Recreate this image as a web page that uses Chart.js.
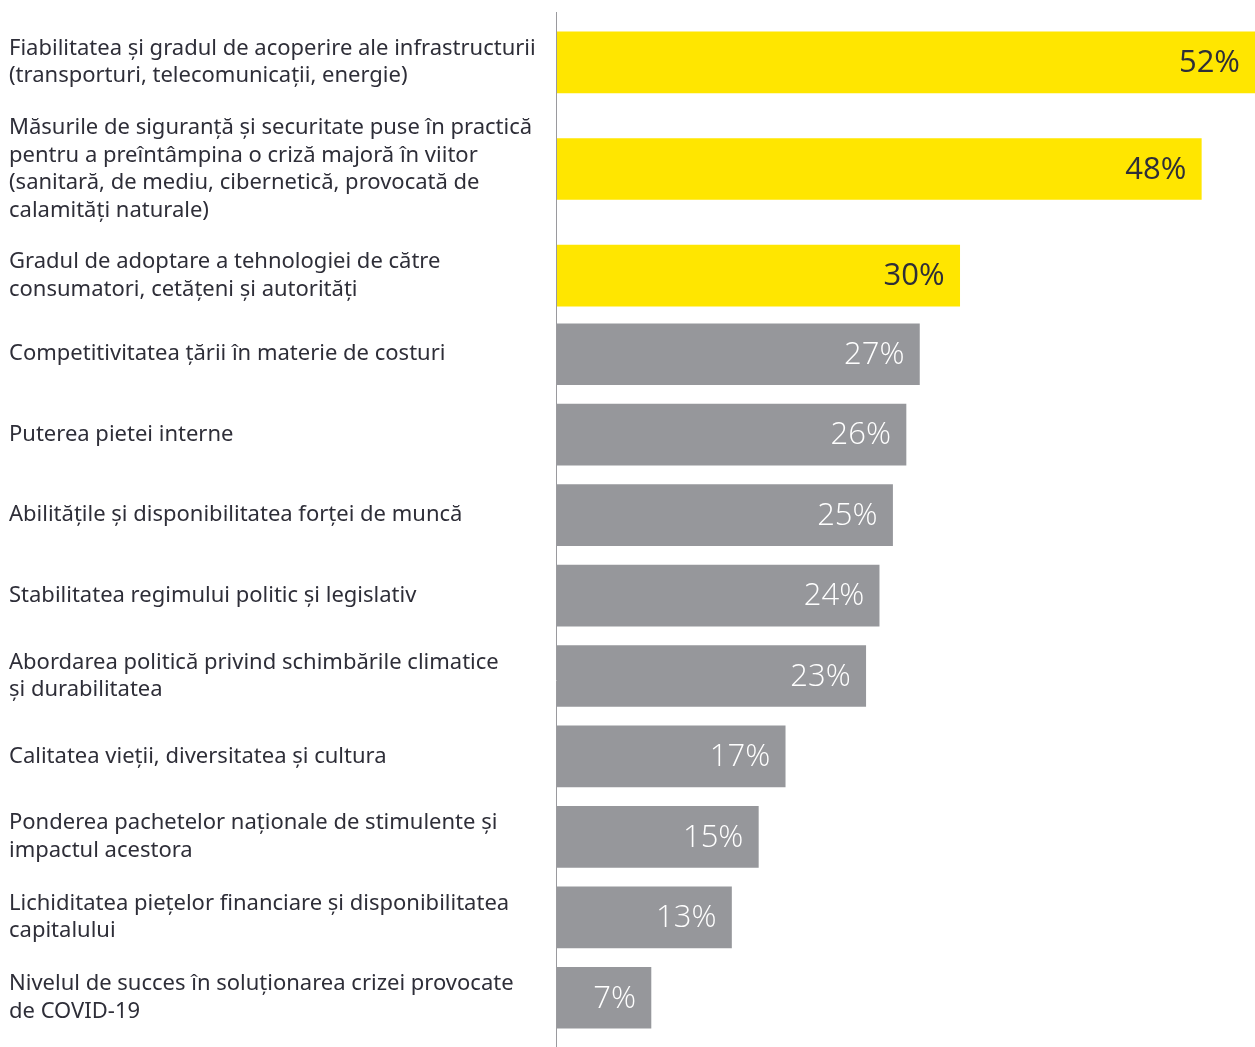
<!DOCTYPE html>
<html>
<head>
<meta charset="utf-8">
<script src="https://cdn.jsdelivr.net/npm/chart.js@4.4.1/dist/chart.umd.min.js"></script>
<style>
  html, body { margin: 0; padding: 0; background: #ffffff; width: 1255px; height: 1047px; overflow: hidden; position: relative; }
  .box { position: absolute; left: 0; width: 1255px; }
  #boxA { top: 9px; height: 320px; }
  #boxB { top: 314px; height: 733px; }
</style>
</head>
<body>
<div class="box" id="boxA"><canvas id="chartA"></canvas></div>
<div class="box" id="boxB"><canvas id="chartB"></canvas></div>
<script>
// ---- data ----
const categories = [
  ["Fiabilitatea și gradul de acoperire ale infrastructurii", "(transporturi, telecomunicații, energie)"],
  ["Măsurile de siguranță și securitate puse în practică", "pentru a preîntâmpina o criză majoră în viitor", "(sanitară, de mediu, cibernetică, provocată de", "calamități naturale)"],
  ["Gradul de adoptare a tehnologiei de către", "consumatori, cetățeni și autorități"],
  "Competitivitatea țării în materie de costuri",
  "Puterea pietei interne",
  "Abilitățile și disponibilitatea forței de muncă",
  "Stabilitatea regimului politic și legislativ",
  ["Abordarea politică privind schimbările climatice", "și durabilitatea"],
  "Calitatea vieții, diversitatea și cultura",
  ["Ponderea pachetelor naționale de stimulente și", "impactul acestora"],
  ["Lichiditatea piețelor financiare și disponibilitatea", "capitalului"],
  ["Nivelul de succes în soluționarea crizei provocate", "de COVID-19"]
];
const values = [52, 48, 30, 27, 26, 25, 24, 23, 17, 15, 13, 7];
const highlighted = [true, true, true, false, false, false, false, false, false, false, false, false];

// ---- styles ----
const YELLOW = '#FFE600';
const GREY = '#96979B';
const TEXT = '#2E2E38';
const AXIS = '#9A9A9E';
const xMax = Math.max(...values);

const valueLabelPlugin = {
  id: 'valueLabels',
  afterDatasetsDraw(chart) {
    const ctx = chart.ctx;
    const meta = chart.getDatasetMeta(0);
    const ds = chart.data.datasets[0];
    ctx.save();
    ctx.textAlign = 'right';
    ctx.textBaseline = 'middle';
    meta.data.forEach((bar, i) => {
      if (ds.hl[i]) {
        ctx.font = '400 31px "Open Sans", "Noto Sans", sans-serif';
        ctx.fillStyle = TEXT;
      } else {
        ctx.font = '300 31px "Open Sans", "Noto Sans", sans-serif';
        ctx.fillStyle = '#FFFFFF';
      }
      ctx.fillText(ds.data[i] + '%', bar.x - 15, bar.y + 1);
    });
    ctx.restore();
  }
};

const axisLinePlugin = {
  id: 'axisLine',
  beforeDatasetsDraw(chart, args, opts) {
    const ctx = chart.ctx;
    const x = Math.round(chart.scales.x.getPixelForValue(0)) - 0.5;
    ctx.save();
    ctx.strokeStyle = AXIS;
    ctx.lineWidth = 1;
    ctx.beginPath();
    ctx.moveTo(x, chart.chartArea.top + (opts.topInset || 0));
    ctx.lineTo(x, opts.toBottom ? chart.height : chart.chartArea.bottom);
    ctx.stroke();
    ctx.restore();
  }
};

function makeChart(id, idx, extra) {
  const labels = idx.map(i => categories[i]);
  const data = idx.map(i => values[i]);
  const hl = idx.map(i => highlighted[i]);
  return new Chart(document.getElementById(id), {
    type: 'bar',
    data: {
      labels: labels,
      datasets: [{
        data: data,
        hl: hl,
        backgroundColor: hl.map(h => h ? YELLOW : GREY),
        borderWidth: 0,
        barThickness: 61
      }]
    },
    options: {
      indexAxis: 'y',
      responsive: true,
      maintainAspectRatio: false,
      animation: false,
      events: [],
      layout: { padding: { left: 9, right: 0, top: 0, bottom: extra.bottom } },
      plugins: {
        legend: { display: false },
        tooltip: { enabled: false },
        axisLine: { toBottom: extra.toBottom, topInset: extra.topInset }
      },
      scales: {
        x: { min: 0, max: xMax, display: false },
        y: {
          grid: { display: false },
          border: { display: false },
          ticks: {
            autoSkip: false,
            crossAlign: 'far',
            padding: 0,
            color: TEXT,
            font: { family: '"Noto Sans", sans-serif', size: 22, lineHeight: 1.25 }
          },
          afterFit(scale) {
            scale.width = 548;
            scale.paddingTop = 0;
            scale.paddingBottom = 0;
          }
        }
      }
    },
    plugins: [axisLinePlugin, valueLabelPlugin]
  });
}

const topIdx = values.map((v, i) => i).filter(i => highlighted[i]);
const restIdx = values.map((v, i) => i).filter(i => !highlighted[i]);
makeChart('chartA', topIdx, { bottom: 0, toBottom: false, topInset: 3 });
makeChart('chartB', restIdx, { bottom: 9, toBottom: true, topInset: 0 });
</script>
</body>
</html>
